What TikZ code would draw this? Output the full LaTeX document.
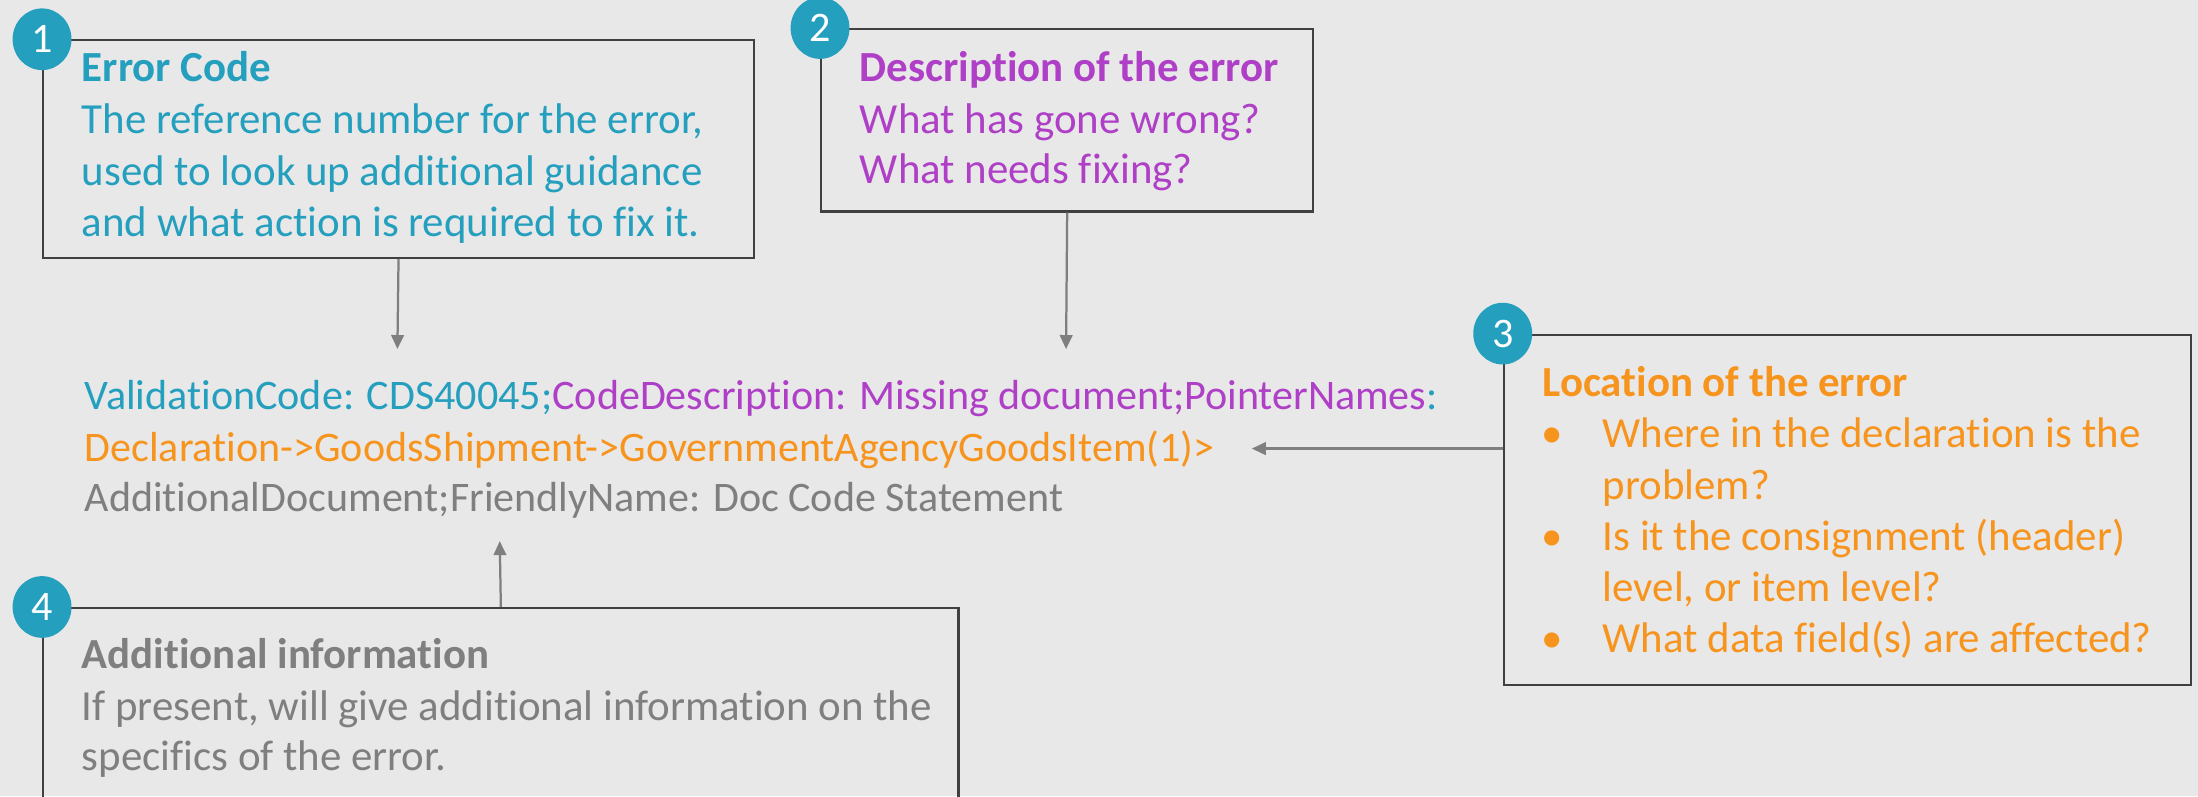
\documentclass[tikz,border=0pt]{standalone}
\usepackage{fontspec}
\setmainfont[Ligatures={NoCommon}]{Carlito}
\usetikzlibrary{arrows.meta,shapes.geometric}
\definecolor{bg}{HTML}{E8E8E8}
\definecolor{cteal}{HTML}{249FBE}
\definecolor{cpurple}{HTML}{AE3FC6}
\definecolor{corange}{HTML}{F7941D}
\definecolor{cgray}{HTML}{7F7F7F}
\definecolor{boxline}{HTML}{404040}
\definecolor{arrowgray}{HTML}{7F7F7F}
\begin{document}
\begin{tikzpicture}[x=0.5pt,y=-0.5pt,
  box/.style={draw=boxline, line width=0.8pt, rectangle, inner sep=0pt, anchor=north west},
  txt/.style={anchor=base west, inner sep=0pt, font=\fontsize{15.3}{18}\selectfont},
  msg/.style={anchor=base west, inner sep=0pt, font=\fontsize{15}{18}\selectfont},
  badge/.style={ellipse, fill=cteal, text=white, minimum width=21pt, minimum height=22pt, inner sep=0pt, font=\fontsize{15}{18}\selectfont},
  conn/.style={draw=arrowgray, line width=0.8pt, -{Triangle[length=5pt,width=4.5pt]}}]
\fill[bg] (0,0) rectangle (1568,568);
\useasboundingbox (0,0) rectangle (1568,568);
\clip (0,0) rectangle (1568,568);

% boxes
\node[box, minimum width=253.5pt, minimum height=77.5pt] (b1) at (30,28) {};
\node[box, minimum width=175.5pt, minimum height=65pt] (b2) at (585,20) {};
\node[box, minimum width=245pt, minimum height=125pt] (b3) at (1072,238) {};
\node[box, minimum width=326.5pt, minimum height=83.5pt] (b4) at (30,433) {};

% badges
\node[badge] (n1) at (b1.north west) {1};
\node[badge] (n2) at (b2.north west) {2};
\node[badge] (n3) at (b3.north west) {3};
\node[badge] (n4) at (b4.north west) {4};

% box 1 text
\node[txt, text=cteal] (t1a) at (58,58) {\bfseries Error Code};
\node[txt, text=cteal] (t1b) at (58,95) {The reference number for the error,};
\node[txt, text=cteal] (t1c) at (58,132) {used to look up additional guidance};
\node[txt, text=cteal] (t1d) at (58,169) {and what action is required to fix it.};

% box 2 text
\node[txt, text=cpurple] (t2a) at (613,58) {\bfseries Description of the error};
\node[txt, text=cpurple] (t2b) at (613,95) {What has gone wrong?};
\node[txt, text=cpurple] (t2c) at (613,131) {What needs fixing?};

% box 3 text
\node[txt, text=corange] (t3a) at (1100,283) {\bfseries Location of the error};
\node[txt, text=corange] (u3a) at (1099,319.5) {•};
\node[txt, text=corange] (t3b) at (1143,319.5) {Where in the declaration is the};
\node[txt, text=corange] (t3c) at (1143,356) {problem?};
\node[txt, text=corange] (u3b) at (1099,392.5) {•};
\node[txt, text=corange] (t3d) at (1143,392.5) {Is it the consignment (header)};
\node[txt, text=corange] (t3e) at (1143,429) {level, or item level?};
\node[txt, text=corange] (u3c) at (1099,465.5) {•};
\node[txt, text=corange] (t3f) at (1143,465.5) {What data field(s) are affected?};

% box 4 text
\node[txt, text=cgray] (t4a) at (58,477) {\bfseries Additional information};
\node[txt, text=cgray] (t4b) at (58,514) {If present, will give additional information on the};
\node[txt, text=cgray] (t4c) at (58,550) {specifics of the error.};

% main message
\node[msg] (m1) at (60,292) {{\color{cteal}ValidationCode: CDS40045;}{\color{cpurple}CodeDescription: Missing document;PointerNames}{\color{cteal}:}};
\node[msg, text=corange] (m2) at (60,329) {Declaration->GoodsShipment->GovernmentAgencyGoodsItem(1)>};
\node[msg, text=cgray] (m3) at (60,365) {AdditionalDocument;FriendlyName: Doc Code Statement};

% connectors
\coordinate (a1) at (283.5,249);
\coordinate (a2) at (760.5,249);
\coordinate (a3) at (893,320);
\coordinate (a4) at (356.5,386);
\draw[conn] (b1.south) -- (a1);
\draw[conn] (b2.south) -- (a2);
\draw[conn] (b3.west |- a3) -- (a3);
\draw[conn] (b4.north) -- (a4);
\end{tikzpicture}
\end{document}
